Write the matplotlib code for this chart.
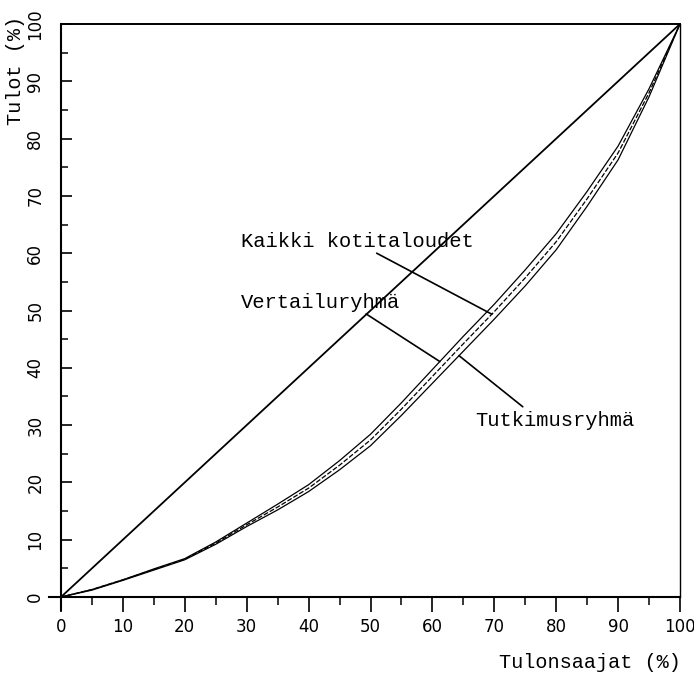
import numpy as np
import matplotlib
matplotlib.use("Agg")
import matplotlib.pyplot as plt

# Data
shares = [0, 5, 10, 15, 20, 25, 30, 35, 40, 45, 50, 55, 60, 65, 70, 75, 80, 85, 90, 95, 100]
kaikki = [0, 1.3, 3.0, 4.8, 6.6, 9.4, 12.6, 15.7, 19.0, 23.0, 27.4, 32.8, 38.5, 44.2, 49.8, 55.7, 62.0, 69.5, 77.5, 88.0, 100]
vertailu = [0, 1.3, 3.0, 4.9, 6.7, 9.6, 12.9, 16.2, 19.6, 23.8, 28.4, 33.9, 39.7, 45.5, 51.1, 57.1, 63.4, 70.8, 78.7, 88.7, 100]
tutkimus = [0, 1.2, 2.9, 4.7, 6.5, 9.2, 12.3, 15.2, 18.4, 22.2, 26.4, 31.7, 37.3, 42.9, 48.5, 54.3, 60.6, 68.2, 76.3, 87.3, 100]
equality = [0, 100]
major_ticks = [0, 10, 20, 30, 40, 50, 60, 70, 80, 90, 100]
minor_ticks = [5, 15, 25, 35, 45, 55, 65, 75, 85, 95]
labels = ["Kaikki kotitaloudet", "Vertailuryhmä", "Tutkimusryhmä"]
xlabel = "Tulonsaajat (%)"
ylabel = "Tulot (%)"

mono = "Liberation Mono"

fig = plt.figure(figsize=(6.94, 6.76), dpi=100)
ax = fig.add_axes([61/694, 1-597/676, (680-61)/694, (597-24)/676])
ax.set_xlim(0, 100)
ax.set_ylim(0, 100)

ax.plot(equality, equality, color="black", lw=1.3, solid_capstyle="round")
ax.plot(shares, vertailu, color="black", lw=0.9)
ax.plot(shares, kaikki, color="black", lw=0.9, ls=(0, (4, 1.5)))
ax.plot(shares, tutkimus, color="black", lw=0.9)


def on_curve(xv, ys):
    return float(np.interp(xv, shares, ys))


# labels and leader lines
text_kw = dict(fontsize=14.8, family=mono, va="baseline", ha="left")
ax.text(29.1, 61.0, labels[0], **text_kw)
ax.text(29.1, 50.5, labels[1], **text_kw)
ax.text(67.0, 29.8, labels[2], **text_kw)

leader_kw = dict(color="black", lw=1.2, solid_capstyle="round")
ax.plot([51.0, 69.6], [60.0, on_curve(69.6, kaikki)], **leader_kw)
ax.plot([49.3, 61.2], [49.4, on_curve(61.2, vertailu)], **leader_kw)
ax.plot([74.6, 64.3], [33.2, on_curve(64.3, tutkimus)], **leader_kw)

# axes styling
for s in ["left", "bottom"]:
    ax.spines[s].set_linewidth(1.5)
ax.spines["top"].set_linewidth(1.4)
ax.spines["right"].set_linewidth(1.0)
ax.spines["bottom"].set_bounds(-2, 100)
ax.spines["left"].set_bounds(-2.3, 100)

ax.set_xticks(major_ticks)
ax.set_xticks(minor_ticks, minor=True)
ax.set_yticks(major_ticks)
ax.set_yticks(minor_ticks, minor=True)
ax.set_xticklabels([str(t) for t in major_ticks])
ax.set_yticklabels([str(t) for t in major_ticks])

ax.tick_params(axis="x", which="major", direction="out", length=11, width=1.2, pad=4, labelsize=12)
ax.tick_params(axis="x", which="minor", direction="out", length=6, width=1.1)
ax.tick_params(axis="y", which="major", direction="in", length=8, width=1.2, pad=12, labelsize=12)
ax.tick_params(axis="y", which="minor", direction="in", length=5, width=1.1)
for lab in ax.get_yticklabels():
    lab.set_rotation(90)
    lab.set_va("center")
    lab.set_ha("right")

fig.text(16/694, 1-70/676, ylabel, rotation=90, ha="center", va="center",
         fontsize=14.5, family=mono)
fig.text(681/694, 1-663/676, xlabel, ha="right", va="center",
         fontsize=14.5, family=mono)

fig.savefig("out.png", dpi=100)
